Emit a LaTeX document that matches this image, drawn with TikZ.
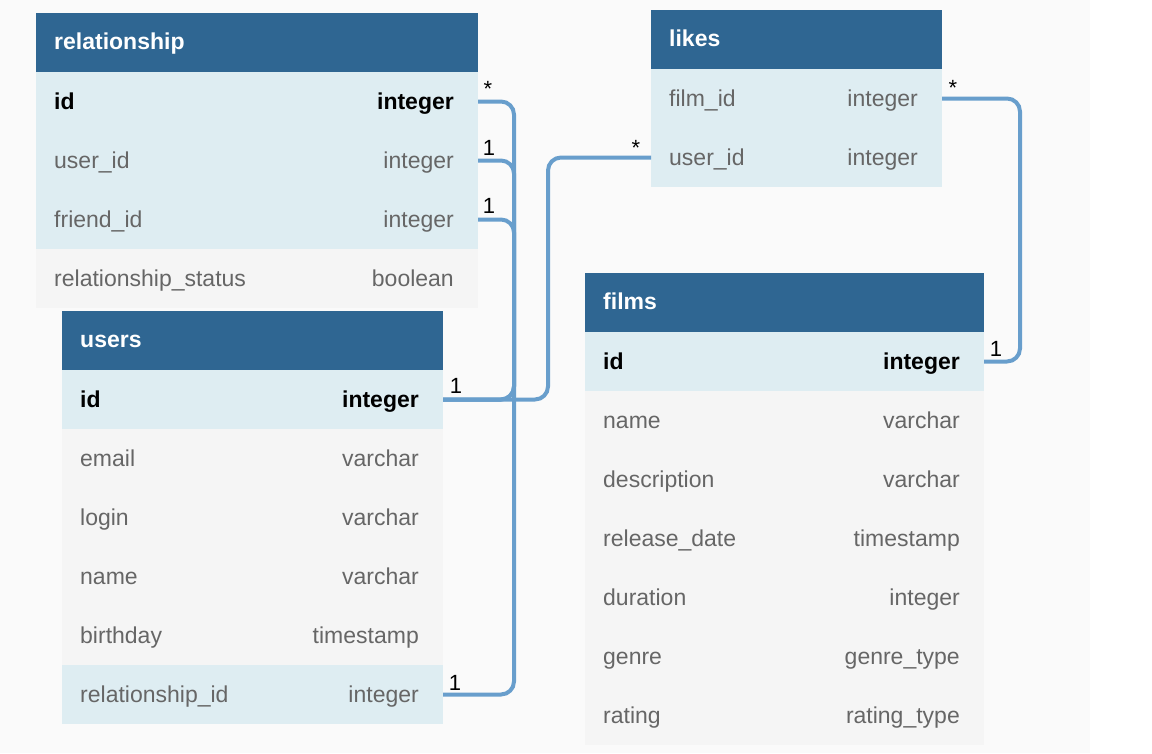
\documentclass[tikz,border=0pt]{standalone}
\usepackage{fontspec}
\setmainfont{Liberation Sans}
\usetikzlibrary{positioning,calc}
\definecolor{hdrblue}{HTML}{2F6692}
\definecolor{keyfill}{HTML}{DEEDF2}
\definecolor{colfill}{HTML}{F5F5F5}
\definecolor{bggray}{HTML}{FAFAFA}
\definecolor{fieldgray}{HTML}{666666}
\definecolor{linkblue}{HTML}{689ECC}
\newcommand{\fieldfont}{\fontsize{23}{27}\selectfont}
% table header: name, x, y, width, title
\newcommand{\dbhead}[5]{%
 \node[cell,fill=hdrblue,minimum width=#4pt] (#1) at (#2,#3) {};
 \node[hdrtxt,anchor=base west] (#1-title) at ([xshift=18pt,yshift=-7pt]#1.west) {#5};}
% table row: name, x, y, width, kind, field, type
\newcommand{\dbrow}[7]{%
 \node[cell,#5,minimum width=#4pt] (#1) at (#2,#3) {};
 \node[#5 txt,anchor=base west] (#1-f) at ([xshift=18pt,yshift=-8pt]#1.west) {#6};
 \node[#5 txt,anchor=base east] (#1-t) at ([xshift=-24pt,yshift=-8pt]#1.east) {#7};}

\begin{document}
\begin{tikzpicture}[x=1pt,y=-1pt,
 cell/.style={anchor=north west,minimum height=59pt,inner sep=0pt,outer sep=0pt},
 hdrtxt/.style={inner sep=0pt,text=white,font=\fieldfont\bfseries},
 pk/.style={fill=keyfill}, pk txt/.style={inner sep=0pt,text=black,font=\fieldfont\bfseries},
 fk/.style={fill=keyfill}, fk txt/.style={inner sep=0pt,text=fieldgray,font=\fieldfont},
 col/.style={fill=colfill}, col txt/.style={inner sep=0pt,text=fieldgray,font=\fieldfont},
 link/.style={draw=linkblue,line width=4pt,rounded corners=13pt},
 mult/.style={inner sep=0pt,anchor=base,font=\fontsize{22}{26}\selectfont}]
 \fill[white] (0,0) rectangle (1152,753);
 \fill[bggray] (0,0) rectangle (1090,753);
 \useasboundingbox (0,0) rectangle (1152,753);

 % relationship
 \dbhead{rel}{36}{13}{442}{relationship}
 \dbrow{rel-id}{36}{72}{442}{pk}{id}{integer}
 \dbrow{rel-uid}{36}{131}{442}{fk}{user\_id}{integer}
 \dbrow{rel-fid}{36}{190}{442}{fk}{friend\_id}{integer}
 \dbrow{rel-st}{36}{249}{442}{col}{relationship\_status}{boolean}

 % users
 \dbhead{users}{62}{311}{381}{users}
 \dbrow{users-id}{62}{370}{381}{pk}{id}{integer}
 \dbrow{users-email}{62}{429}{381}{col}{email}{varchar}
 \dbrow{users-login}{62}{488}{381}{col}{login}{varchar}
 \dbrow{users-name}{62}{547}{381}{col}{name}{varchar}
 \dbrow{users-bday}{62}{606}{381}{col}{birthday}{timestamp}
 \dbrow{users-rid}{62}{665}{381}{fk}{relationship\_id}{integer}

 % likes
 \dbhead{likes}{651}{10}{291}{likes}
 \dbrow{likes-fid}{651}{69}{291}{fk}{film\_id}{integer}
 \dbrow{likes-uid}{651}{128}{291}{fk}{user\_id}{integer}

 % films
 \dbhead{films}{585}{273}{399}{films}
 \dbrow{films-id}{585}{332}{399}{pk}{id}{integer}
 \dbrow{films-name}{585}{391}{399}{col}{name}{varchar}
 \dbrow{films-desc}{585}{450}{399}{col}{description}{varchar}
 \dbrow{films-rel}{585}{509}{399}{col}{release\_date}{timestamp}
 \dbrow{films-dur}{585}{568}{399}{col}{duration}{integer}
 \dbrow{films-genre}{585}{627}{399}{col}{genre}{genre\_type}
 \dbrow{films-rating}{585}{686}{399}{col}{rating}{rating\_type}

 % links
 \draw[link] (rel-id.east) -- ++(36,0) |- (users-id.east);
 \draw[link] (rel-uid.east) -- ++(36,0) |- (users-id.east);
 \draw[link] (rel-fid.east) -- ++(36,0) |- (users-rid.east);
 \draw[link] (users-id.east) -- ++(105,0) |- (likes-uid.west);
 \draw[link] (likes-fid.east) -- ++(78,0) |- (films-id.east);

 % multiplicities
 \node[mult] (m-relid) at ([xshift=10pt,yshift=5pt]rel-id.east) {*};
 \node[mult] (m-reluid) at ([xshift=11pt,yshift=5pt]rel-uid.east) {1};
 \node[mult] (m-relfid) at ([xshift=11pt,yshift=6pt]rel-fid.east) {1};
 \node[mult] (m-usersid) at ([xshift=13pt,yshift=6pt]users-id.east) {1};
 \node[mult] (m-usersrid) at ([xshift=12pt,yshift=4pt]users-rid.east) {1};
 \node[mult] (m-likesuid) at ([xshift=-15pt,yshift=2pt]likes-uid.west) {*};
 \node[mult] (m-likesfid) at ([xshift=11pt,yshift=3pt]likes-fid.east) {*};
 \node[mult] (m-filmsid) at ([xshift=12pt,yshift=5pt]films-id.east) {1};
\end{tikzpicture}
\end{document}
